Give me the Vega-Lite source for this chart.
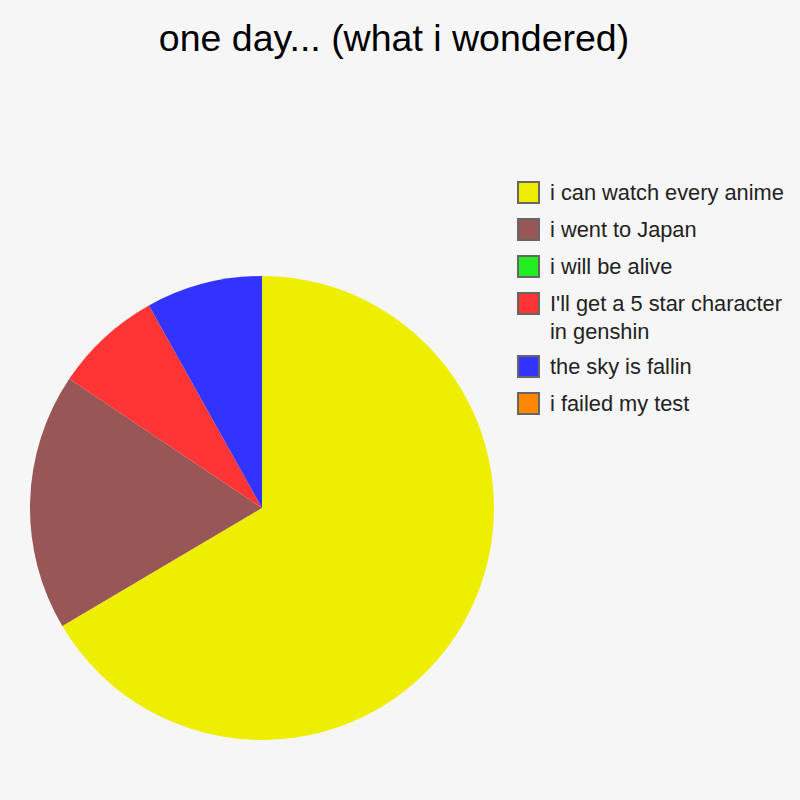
{
  "$schema": "https://vega.github.io/schema/vega-lite/v6.json",
  "autosize": {"type": "none"},
  "width": 524,
  "height": 464,
  "padding": {"left": 0, "top": 276, "right": 276, "bottom": 60},
  "background": "#f6f6f6",
  "title": {
    "text": "one day... (what i wondered)",
    "font": "Liberation Sans",
    "fontSize": 37.5,
    "fontWeight": "normal",
    "color": "#000000",
    "anchor": "middle",
    "dx": 132,
    "baseline": "alphabetic",
    "offset": 93
  },
  "data": {
    "values": [
      {"label": "i can watch every anime", "value": 66.5, "order": 1},
      {"label": "i went to Japan", "value": 17.9, "order": 2},
      {"label": "i will be alive", "value": 0, "order": 3},
      {"label": "I'll get a 5 star character in genshin", "value": 7.5, "order": 4},
      {"label": "the sky is fallin", "value": 8.1, "order": 5},
      {"label": "i failed my test", "value": 0, "order": 6}
    ]
  },
  "mark": {"type": "arc", "radius": 232, "strokeWidth": 0},
  "encoding": {
    "theta": {"field": "value", "type": "quantitative", "stack": true},
    "order": {"field": "order", "type": "quantitative"},
    "color": {
      "field": "label",
      "type": "nominal",
      "scale": {
        "domain": ["i can watch every anime", "i went to Japan", "i will be alive", "I'll get a 5 star character in genshin", "the sky is fallin", "i failed my test"],
        "range": ["#eeee00", "#985656", "#22ee22", "#ff3535", "#3333ff", "#ff8800"]
      },
      "legend": {
        "title": null,
        "orient": "none",
        "legendX": 517,
        "legendY": -95,
        "padding": 0,
        "symbolType": "square",
        "symbolSize": 441,
        "symbolStrokeColor": "#666666",
        "symbolStrokeWidth": 2,
        "symbolOpacity": 1,
        "labelFont": "Liberation Sans",
        "labelFontSize": 21.8,
        "labelColor": "#222222",
        "labelLimit": 400,
        "labelOffset": 10,
        "rowPadding": 8,
        "labelExpr": "datum.label == \"I'll get a 5 star character in genshin\" ? [\"I'll get a 5 star character\", \"in genshin\"] : datum.label",
        "encode": {
          "symbols": {"update": {"stroke": {"value": "#666666"}, "strokeWidth": {"value": 2}}},
          "labels": {"update": {"lineHeight": {"value": 28}}}
        }
      }
    }
  },
  "config": {"view": {"stroke": null}}
}
